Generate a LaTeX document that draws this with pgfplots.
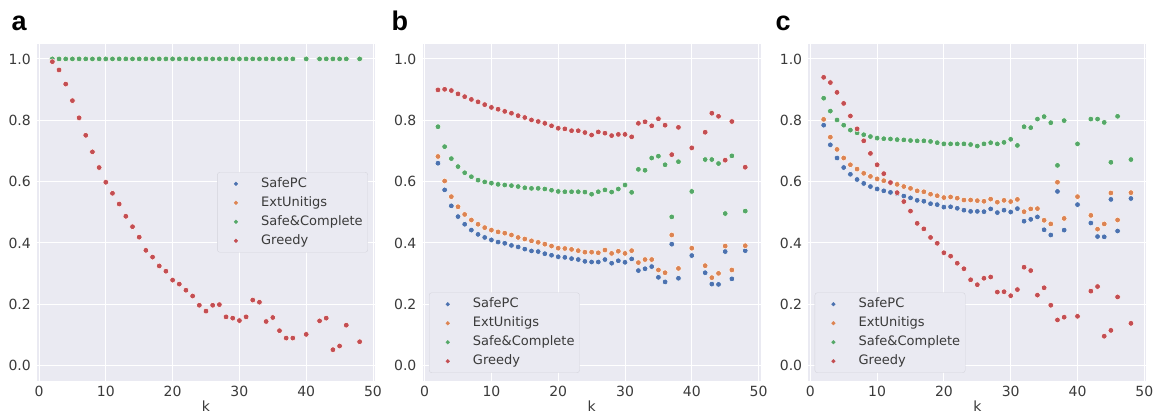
\documentclass[border=0pt]{standalone}
\usepackage{pgfplots}
\usepackage{pgfplotstable}
\pgfplotsset{compat=1.18}
\usepackage{fontspec}
\setmainfont{DejaVu Sans}
\newfontfamily\letterfont{Liberation Sans}
\definecolor{sbblue}{HTML}{4C72B0}
\definecolor{sborange}{HTML}{DD8452}
\definecolor{sbgreen}{HTML}{55A868}
\definecolor{sbred}{HTML}{C44E52}
\definecolor{sbbg}{HTML}{EAEAF2}
\definecolor{tickgray}{HTML}{3A3A3A}
\definecolor{legedge}{HTML}{D4D4DC}

\pgfplotstableread{
k s e c g
2 1 1 1 0.991
3 1 1 1 0.964
4 1 1 1 0.918
5 1 1 1 0.864
6 1 1 1 0.808
7 1 1 1 0.751
8 1 1 1 0.697
9 1 1 1 0.646
10 1 1 1 0.598
11 1 1 1 0.562
12 1 1 1 0.527
13 1 1 1 0.487
14 1 1 1 0.453
15 1 1 1 0.419
16 1 1 1 0.376
17 1 1 1 0.354
18 1 1 1 0.325
19 1 1 1 0.308
20 1 1 1 0.279
21 1 1 1 0.266
22 1 1 1 0.246
23 1 1 1 0.227
24 1 1 1 0.197
25 1 1 1 0.178
26 1 1 1 0.197
27 1 1 1 0.199
28 1 1 1 0.159
29 1 1 1 0.155
30 1 1 1 0.147
31 1 1 1 0.159
32 1 1 1 0.214
33 1 1 1 0.207
34 1 1 1 0.144
35 1 1 1 0.157
36 1 1 1 0.114
37 1 1 1 0.090
38 1 1 1 0.090
40 1 1 1 0.102
42 1 1 1 0.146
43 1 1 1 0.155
44 1 1 1 0.052
45 1 1 1 0.064
46 1 1 1 0.132
48 1 1 1 0.078
}\tableA

\pgfplotstableread{
k s e c g
2 0.660 0.682 0.779 0.899
3 0.573 0.602 0.714 0.901
4 0.521 0.551 0.675 0.897
5 0.486 0.518 0.649 0.886
6 0.461 0.493 0.629 0.877
7 0.442 0.475 0.616 0.868
8 0.428 0.461 0.605 0.860
9 0.418 0.450 0.599 0.851
10 0.410 0.442 0.595 0.842
11 0.403 0.436 0.591 0.836
12 0.399 0.432 0.589 0.829
13 0.392 0.426 0.587 0.823
14 0.387 0.418 0.584 0.815
15 0.380 0.413 0.580 0.809
16 0.374 0.407 0.578 0.801
17 0.372 0.402 0.578 0.796
18 0.365 0.396 0.576 0.790
19 0.360 0.390 0.572 0.782
20 0.355 0.383 0.568 0.774
21 0.353 0.382 0.567 0.772
22 0.349 0.379 0.567 0.766
23 0.346 0.375 0.567 0.766
24 0.340 0.370 0.566 0.760
25 0.338 0.370 0.559 0.752
26 0.338 0.368 0.567 0.762
27 0.346 0.377 0.573 0.758
28 0.334 0.366 0.566 0.750
29 0.342 0.373 0.576 0.754
30 0.337 0.366 0.589 0.754
31 0.348 0.375 0.565 0.746
32 0.310 0.336 0.640 0.790
33 0.316 0.346 0.637 0.795
34 0.323 0.346 0.677 0.782
35 0.288 0.312 0.683 0.805
36 0.273 0.303 0.655 0.784
37 0.396 0.426 0.485 0.688
38 0.285 0.317 0.665 0.777
40 0.359 0.383 0.568 0.710
42 0.303 0.326 0.672 0.761
43 0.266 0.287 0.672 0.823
44 0.265 0.301 0.659 0.813
45 0.372 0.390 0.496 0.670
46 0.283 0.312 0.684 0.796
48 0.375 0.391 0.504 0.647
}\tableB

\pgfplotstableread{
k s e c g
2 0.784 0.803 0.872 0.940
3 0.720 0.745 0.830 0.923
4 0.677 0.705 0.801 0.891
5 0.646 0.677 0.784 0.855
6 0.624 0.655 0.768 0.814
7 0.607 0.641 0.759 0.772
8 0.594 0.627 0.753 0.733
9 0.584 0.617 0.747 0.692
10 0.576 0.609 0.742 0.655
11 0.570 0.603 0.740 0.626
12 0.565 0.595 0.739 0.597
13 0.561 0.591 0.737 0.564
14 0.553 0.584 0.736 0.535
15 0.547 0.578 0.734 0.504
16 0.539 0.570 0.733 0.464
17 0.536 0.567 0.733 0.446
18 0.528 0.559 0.731 0.418
19 0.525 0.554 0.727 0.399
20 0.517 0.548 0.723 0.368
21 0.518 0.550 0.723 0.357
22 0.513 0.546 0.723 0.334
23 0.507 0.540 0.723 0.316
24 0.503 0.540 0.721 0.280
25 0.503 0.538 0.716 0.264
26 0.502 0.536 0.723 0.285
27 0.511 0.543 0.727 0.289
28 0.499 0.533 0.723 0.240
29 0.507 0.539 0.728 0.241
30 0.501 0.535 0.738 0.228
31 0.512 0.542 0.718 0.248
32 0.471 0.502 0.779 0.321
33 0.477 0.511 0.776 0.310
34 0.485 0.512 0.804 0.230
35 0.443 0.474 0.812 0.254
36 0.426 0.462 0.792 0.197
37 0.568 0.598 0.653 0.149
38 0.442 0.480 0.799 0.158
40 0.525 0.551 0.723 0.161
42 0.465 0.490 0.804 0.243
43 0.421 0.445 0.804 0.258
44 0.420 0.462 0.793 0.096
45 0.542 0.563 0.663 0.115
46 0.439 0.475 0.813 0.224
48 0.545 0.564 0.672 0.138
}\tableC

\pgfplotsset{
  sbaxis/.style={
    scale only axis, width=338pt, height=337.4pt,
    anchor=south west,
    xmin=-0.3, xmax=50.3, ymin=-0.05, ymax=1.05,
    axis background/.style={fill=sbbg},
    axis line style={draw=none},
    major tick length=0pt,
    grid=major, major grid style={white, line width=1pt},
    xtick={0,10,20,30,40,50}, ytick={0,0.2,0.4,0.6,0.8,1.0},
    /pgf/number format/assume math mode=true,
    tick label style={font=\fontsize{14}{16}\selectfont, text=tickgray, inner sep=0pt},
    xticklabel style={anchor=base, yshift=-15.7pt},
    yticklabel style={anchor=east, xshift=-6pt, /pgf/number format/.cd, fixed, fixed zerofill, precision=1},
    xlabel={k},
    xlabel style={at={(axis description cs:0.5,0)}, anchor=base, yshift=-30.7pt, font=\fontsize{14}{16}\selectfont, text=tickgray},
    legend cell align=left,
    legend image code/.code={\path (0pt,0pt) (38.3pt,0pt); \draw[##1, mark size=1.9pt, mark options={line width=0.3pt}] plot coordinates {(15.3pt,0pt)};},
    legend style={fill=sbbg, draw=legedge, rounded corners=2.5pt, font=\fontsize{13}{15}\selectfont, text=tickgray,
      inner xsep=3pt, inner ysep=2pt, row sep=0pt, column sep=0pt,
      nodes={text height=10pt, text depth=3pt, inner ysep=3pt, inner xsep=2pt}},
  },
  sbmark/.style={only marks, mark=*, mark size=2.85pt, mark options={draw=white, line width=0.45pt, fill=#1}, color=#1},
}

\begin{document}
\begin{tikzpicture}
\useasboundingbox (0,0) rectangle (1153pt,415pt);

\begin{axis}[sbaxis, at={(37pt,34pt)},
  legend style={at={(0.979,0.5)}, anchor=east}]
\addplot[sbmark=sbblue] table[x=k,y=s]{\tableA};
\addplot[sbmark=sborange] table[x=k,y=e]{\tableA};
\addplot[sbmark=sbgreen] table[x=k,y=c]{\tableA};
\addplot[sbmark=sbred] table[x=k,y=g]{\tableA};
\legend{SafePC,ExtUnitigs,Safe\&Complete,Greedy}
\end{axis}

\begin{axis}[sbaxis, at={(422.6pt,34pt)},
  legend style={at={(0.019,0.024)}, anchor=south west}]
\addplot[sbmark=sbblue] table[x=k,y=s]{\tableB};
\addplot[sbmark=sborange] table[x=k,y=e]{\tableB};
\addplot[sbmark=sbgreen] table[x=k,y=c]{\tableB};
\addplot[sbmark=sbred] table[x=k,y=g]{\tableB};
\legend{SafePC,ExtUnitigs,Safe\&Complete,Greedy}
\end{axis}

\begin{axis}[sbaxis, at={(808.3pt,34pt)},
  legend style={at={(0.019,0.024)}, anchor=south west}]
\addplot[sbmark=sbblue] table[x=k,y=s]{\tableC};
\addplot[sbmark=sborange] table[x=k,y=e]{\tableC};
\addplot[sbmark=sbgreen] table[x=k,y=c]{\tableC};
\addplot[sbmark=sbred] table[x=k,y=g]{\tableC};
\legend{SafePC,ExtUnitigs,Safe\&Complete,Greedy}
\end{axis}

\node[anchor=base west, inner sep=0pt, font=\letterfont\bfseries\fontsize{27}{30}\selectfont] at (11.5pt,384pt) {a};
\node[anchor=base west, inner sep=0pt, font=\letterfont\bfseries\fontsize{27}{30}\selectfont] at (391.5pt,384pt) {b};
\node[anchor=base west, inner sep=0pt, font=\letterfont\bfseries\fontsize{27}{30}\selectfont] at (775.5pt,384pt) {c};
\end{tikzpicture}
\end{document}
